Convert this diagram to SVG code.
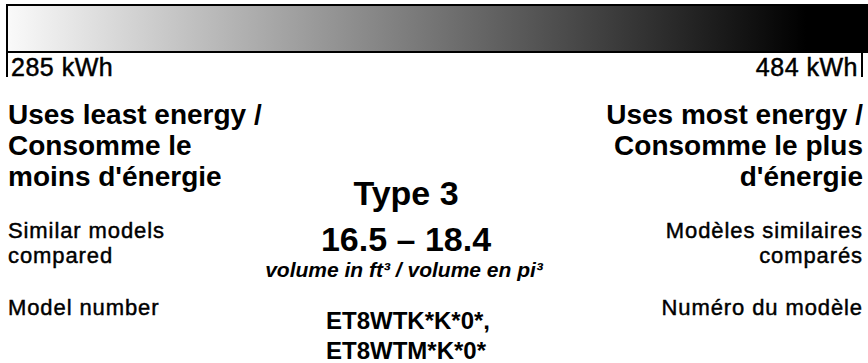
<svg xmlns="http://www.w3.org/2000/svg" width="868" height="363" viewBox="0 0 868 363">
<defs>
<linearGradient id="g" x1="7" y1="0" x2="866" y2="0" gradientUnits="userSpaceOnUse">
<stop offset="0" stop-color="#fafafa"/>
<stop offset="0.93" stop-color="#000"/>
<stop offset="1" stop-color="#000"/>
</linearGradient>
<style>
text{font-family:"Liberation Sans",Arial,sans-serif;fill:#000}
.kwh{font-size:25px;stroke:#000;stroke-width:0.5;letter-spacing:0.5px}
.head{font-size:28px;font-weight:bold}
.lab{font-size:22px;stroke:#000;stroke-width:0.45;letter-spacing:0.9px}
.big{font-size:34px;font-weight:bold}
.vol{font-size:21px;font-weight:bold;font-style:italic}
.mod{font-size:24px;font-weight:bold}
.r{text-anchor:end}
.c{text-anchor:middle}
line{stroke:#000;stroke-width:2}
</style>
</defs>
<rect width="868" height="363" fill="#fff"/>
<g id="scale">
<rect x="7" y="5" width="863" height="47" fill="url(#g)" stroke="#000" stroke-width="2"/>
<line x1="7" y1="52" x2="7" y2="77"/>
<line x1="862" y1="52" x2="862" y2="77"/>
<text class="kwh" x="11" y="76">285 kWh</text>
<text class="kwh r" x="858" y="76">484 kWh</text>
</g>
<g id="left">
<text class="head" x="8" y="124">Uses least energy /</text>
<text class="head" x="8" y="155">Consomme le</text>
<text class="head" x="8" y="186">moins d'énergie</text>
<text class="lab" x="8" y="238">Similar models</text>
<text class="lab" x="8" y="263">compared</text>
<text class="lab" x="8" y="315">Model number</text>
</g>
<g id="right">
<text class="head r" x="863" y="124">Uses most energy /</text>
<text class="head r" x="863" y="155">Consomme le plus</text>
<text class="head r" x="863" y="186">d'énergie</text>
<text class="lab r" x="863" y="238">Modèles similaires</text>
<text class="lab r" x="863" y="263">comparés</text>
<text class="lab r" x="863" y="315">Numéro du modèle</text>
</g>
<g id="center">
<text class="big c" x="406" y="205">Type 3</text>
<text class="big c" x="406" y="251">16.5 – 18.4</text>
<text class="vol c" x="404" y="277">volume in ft³ / volume en pi³</text>
<text class="mod c" x="408" y="329">ET8WTK*K*0*,</text>
<text class="mod c" x="406" y="359">ET8WTM*K*0*</text>
</g>
</svg>
